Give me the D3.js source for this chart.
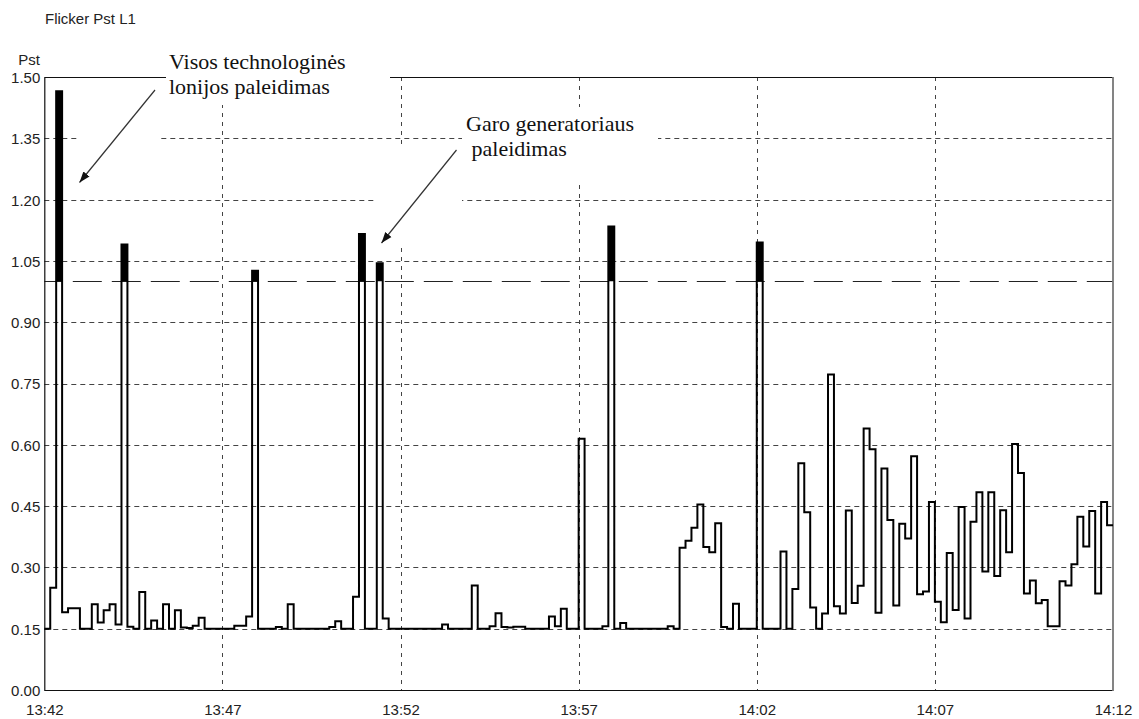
<!DOCTYPE html>
<html>
<head>
<meta charset="utf-8">
<script src="https://cdn.jsdelivr.net/npm/d3@7"></script>
<style>
  html, body { margin: 0; padding: 0; background: #fff; }
  svg { display: block; }
</style>
</head>
<body>
<svg id="chart" width="1139" height="719"></svg>
<script>
// ---- data -------------------------------------------------------------
const chartTitle = "Flicker Pst L1";
const yAxisTitle = "Pst";
const startTime = "13:42:00";
const sampleSeconds = 10;
const pstLimit = 1.0;

const yTickValues = [0, 0.15, 0.30, 0.45, 0.60, 0.75, 0.90, 1.05, 1.20, 1.35, 1.50];
const xTickLabels = ["13:42", "13:47", "13:52", "13:57", "14:02", "14:07", "14:12"];

// Pst values, one per 10 s, grouped by five-minute window
const pst1342 = [0.15, 0.25, 1.465, 0.19, 0.20, 0.20, 0.15, 0.15, 0.21, 0.165,
                 0.195, 0.21, 0.16, 1.09, 0.155, 0.15, 0.24, 0.15, 0.17, 0.15,
                 0.21, 0.15, 0.195, 0.153, 0.152, 0.157, 0.177, 0.15, 0.15, 0.15];
const pst1347 = [0.15, 0.15, 0.157, 0.157, 0.18, 1.026, 0.15, 0.15, 0.15, 0.154,
                 0.15, 0.21, 0.15, 0.15, 0.15, 0.15, 0.15, 0.15, 0.154, 0.168,
                 0.15, 0.15, 0.228, 1.116, 0.15, 0.15, 1.044, 0.175, 0.15, 0.15];
const pst1352 = [0.15, 0.15, 0.15, 0.15, 0.15, 0.15, 0.15, 0.16, 0.15, 0.15,
                 0.15, 0.15, 0.256, 0.15, 0.15, 0.156, 0.188, 0.154, 0.153, 0.155,
                 0.155, 0.15, 0.15, 0.15, 0.15, 0.18, 0.156, 0.199, 0.15, 0.15];
const pst1357 = [0.615, 0.15, 0.15, 0.15, 0.156, 1.134, 0.15, 0.164, 0.15, 0.15,
                 0.15, 0.15, 0.15, 0.15, 0.15, 0.156, 0.15, 0.348, 0.365, 0.397,
                 0.454, 0.35, 0.337, 0.408, 0.154, 0.15, 0.211, 0.15, 0.15, 0.15];
const pst1402 = [1.095, 0.15, 0.15, 0.15, 0.339, 0.15, 0.247, 0.555, 0.435, 0.202,
                 0.15, 0.187, 0.772, 0.205, 0.187, 0.439, 0.213, 0.255, 0.64, 0.589,
                 0.189, 0.542, 0.416, 0.207, 0.407, 0.371, 0.572, 0.234, 0.241, 0.46];
const pst1407 = [0.216, 0.166, 0.335, 0.196, 0.448, 0.175, 0.412, 0.484, 0.29, 0.484,
                 0.279, 0.44, 0.337, 0.602, 0.531, 0.236, 0.268, 0.212, 0.22, 0.156,
                 0.156, 0.266, 0.256, 0.308, 0.424, 0.351, 0.438, 0.236, 0.46, 0.403];

const note1Lines = ["Visos technologinės", "lonijos paleidimas"];
const note2Lines = ["Garo generatoriaus", " paleidimas"];

// ---- setup ------------------------------------------------------------
const svg = d3.select("#chart");
const W = 1139, H = 719;
const plot = { left: 44.3, right: 1113, top: 77, bottom: 690 };

const parseTime = d3.timeParse("%H:%M:%S");
const t0 = parseTime(startTime);
const pst = [].concat(pst1342, pst1347, pst1352, pst1357, pst1402, pst1407);
const tEnd = d3.timeSecond.offset(t0, pst.length * sampleSeconds);

const x = d3.scaleTime().domain([t0, tEnd]).range([plot.left, plot.right]);
const y = d3.scaleLinear().domain([0, 1.5]).range([plot.bottom, plot.top]);

const samples = pst.map((v, i) => ({ t: d3.timeSecond.offset(t0, i * sampleSeconds), v }));
samples.push({ t: tEnd, v: pst[pst.length - 1] });

const parseHM = d3.timeParse("%H:%M");
const xTickDates = xTickLabels.map(s => parseHM(s)).map(d => {
  const r = new Date(t0); r.setHours(d.getHours(), d.getMinutes(), 0, 0); return r;
});

const sans = "Arial, 'Liberation Sans', sans-serif";
const serif = "'Times New Roman', 'Liberation Serif', serif";

svg.append("rect").attr("width", W).attr("height", H).attr("fill", "#fff");

// ---- grid -------------------------------------------------------------
const grid = svg.append("g").attr("stroke", "#444").attr("stroke-width", 1).attr("fill", "none");
grid.selectAll("line.h")
  .data(yTickValues.filter(v => v > 0 && v < 1.5))
  .join("line").attr("class", "h")
  .attr("x1", plot.left).attr("x2", plot.right)
  .attr("y1", d => Math.round(y(d)) + 0.5).attr("y2", d => Math.round(y(d)) + 0.5)
  .attr("stroke-dasharray", "5,4");
grid.selectAll("line.v")
  .data(xTickDates.slice(1, -1))
  .join("line").attr("class", "v")
  .attr("x1", d => Math.round(x(d)) + 0.5).attr("x2", d => Math.round(x(d)) + 0.5)
  .attr("y1", plot.top).attr("y2", plot.bottom)
  .attr("stroke-dasharray", "4,5");

// limit line
svg.append("line")
  .attr("x1", plot.left).attr("x2", plot.right)
  .attr("y1", Math.round(y(pstLimit)) + 0.5).attr("y2", Math.round(y(pstLimit)) + 0.5)
  .attr("stroke", "#222").attr("stroke-width", 1)
  .attr("stroke-dasharray", "29,10").attr("stroke-dashoffset", 10.5);

// frame
svg.append("path")
  .attr("d", `M${plot.right},${plot.top + 0.5}H${plot.left + 0.5}V${plot.bottom + 0.5}H${plot.right}`)
  .attr("fill", "none").attr("stroke", "#111").attr("stroke-width", 1.2);
svg.append("line")
  .attr("x1", plot.right).attr("x2", plot.right)
  .attr("y1", plot.top).attr("y2", plot.bottom + 1)
  .attr("stroke", "#777").attr("stroke-width", 1.8);

// white backgrounds behind the annotation objects
const masks = [
  [166, 40, 224, 65],
  [77, 87, 82, 98],
  [462, 107, 196, 76],
  [375, 146, 87, 101]
];
svg.append("g").selectAll("rect").data(masks).join("rect")
  .attr("x", d => d[0]).attr("y", d => d[1])
  .attr("width", d => d[2]).attr("height", d => d[3])
  .attr("fill", "#fff");

// ---- trace ------------------------------------------------------------
const area = d3.area()
  .curve(d3.curveStepAfter)
  .x(d => x(d.t))
  .y0(y(pstLimit))
  .y1(d => y(Math.max(d.v, pstLimit)));
svg.append("path").datum(samples).attr("d", area).attr("fill", "#000");

const line = d3.line().curve(d3.curveStepAfter).x(d => x(d.t)).y(d => y(d.v));
svg.append("path").datum(samples).attr("d", line)
  .attr("fill", "none").attr("stroke", "#000").attr("stroke-width", 2)
  .attr("stroke-linejoin", "miter");

// ---- axes -------------------------------------------------------------
const yAxis = svg.append("g")
  .attr("transform", `translate(${plot.left},0)`)
  .call(d3.axisLeft(y).tickValues(yTickValues).tickFormat(d3.format(".2f")).tickSize(0).tickPadding(4));
yAxis.select(".domain").remove();
yAxis.selectAll("text").attr("font-family", sans).attr("font-size", 15).attr("fill", "#222").attr("dy", "0.36em");

const xAxis = svg.append("g")
  .attr("transform", `translate(0,${plot.bottom})`)
  .call(d3.axisBottom(x).tickValues(xTickDates).tickFormat(d3.timeFormat("%H:%M")).tickSize(0).tickPadding(14));
xAxis.select(".domain").remove();
xAxis.selectAll("text").attr("font-family", sans).attr("font-size", 15).attr("fill", "#222");

svg.append("text").attr("x", 45).attr("y", 24)
  .attr("font-family", sans).attr("font-size", 15).attr("fill", "#222")
  .text(chartTitle);
svg.append("text").attr("x", 40).attr("y", 65).attr("text-anchor", "end")
  .attr("font-family", sans).attr("font-size", 15).attr("fill", "#222")
  .text(yAxisTitle);

// ---- annotations ------------------------------------------------------
svg.append("defs").append("marker")
  .attr("id", "head").attr("viewBox", "0 -4 10 8")
  .attr("refX", 10).attr("refY", 0)
  .attr("markerUnits", "userSpaceOnUse")
  .attr("markerWidth", 11).attr("markerHeight", 9)
  .attr("orient", "auto")
  .append("path").attr("d", "M0,-3.6L10,0L0,3.6Z").attr("fill", "#111");

const note = (lines, x0, y0, dxs) => {
  const t = svg.append("text").attr("font-family", serif).attr("font-size", 22).attr("fill", "#111");
  lines.forEach((s, i) => {
    t.append("tspan").attr("x", x0 + (dxs ? dxs[i] : 0)).attr("y", y0 + i * 25)
      .attr("xml:space", "preserve").text(s);
  });
};
note(note1Lines, 169, 69);
note(note2Lines, 466, 131);

const arrow = (x1, y1, x2, y2) => svg.append("line")
  .attr("x1", x1).attr("y1", y1).attr("x2", x2).attr("y2", y2)
  .attr("stroke", "#333").attr("stroke-width", 1.2)
  .attr("marker-end", "url(#head)");
arrow(155, 90, 79.5, 182.5);
arrow(456.5, 150, 381.5, 243);
</script>
</body>
</html>
